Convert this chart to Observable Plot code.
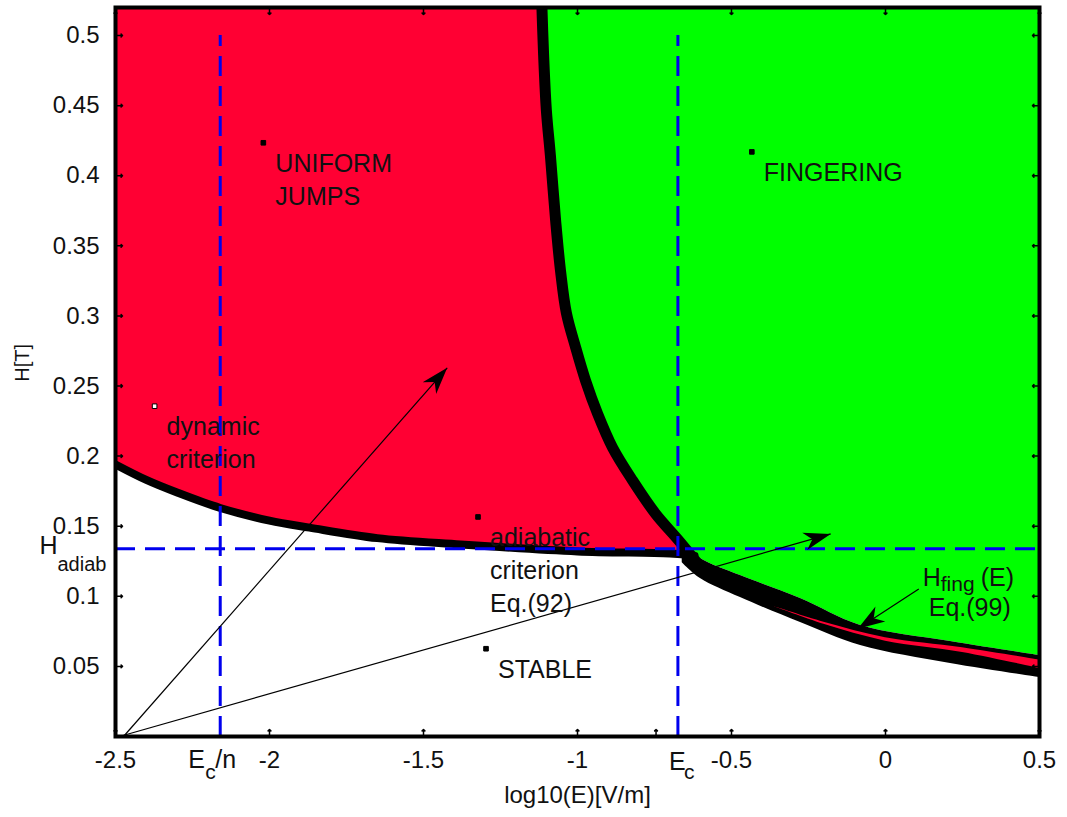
<!DOCTYPE html>
<html>
<head>
<meta charset="utf-8">
<script src="https://cdn.jsdelivr.net/npm/d3@7"></script>
<script src="https://cdn.jsdelivr.net/npm/@observablehq/plot@0.6"></script>
<style>
  body { margin: 0; background: #fff; }
  #chart svg { display: block; }
</style>
</head>
<body>
<div id="chart"></div>
<script>
// Axis ranges and ticks
const xDomain = [-2.5, 0.5];
const yDomain = [0, 0.52];
const xTicks = [-2.5, -2, -1.5, -1, -0.5, 0, 0.5];
const yTicks = [0.05, 0.1, 0.15, 0.2, 0.25, 0.3, 0.35, 0.4, 0.45, 0.5];
const xExtraTicks = [-0.745];

// Characteristic levels: log10 of critical field, and adiabatic field
const Ec = -0.674;
const EcOverN = -2.16;
const Hadiab = 0.134;
const dashTop = 0.5;

// Dynamic / adiabatic stability criterion (lower edge of the jump region)
const dynE = [-2.5, -2.4, -2.3, -2.16, -2.0, -1.87, -1.65, -1.38, -1.0, -0.7, -0.62];
const dynH = [0.194, 0.183, 0.174, 0.163, 0.154, 0.149, 0.1415, 0.137, 0.132, 0.1305, 0.129];

// Fingering threshold, steep part (centre of the boundary)
const fingE = [-1.117, -1.110, -1.101, -1.088, -1.071, -1.055, -1.036, -1.006, -0.974, -0.935, -0.886, -0.821, -0.747, -0.672, -0.610];
const fingH = [0.53, 0.486, 0.4465, 0.4144, 0.368, 0.332, 0.302, 0.2775, 0.254, 0.2304, 0.206, 0.1826, 0.159, 0.140, 0.1234];

// H_fing(E), Eq.(99): shallow part drawn as a band (upper / lower edge)
const bandE  = [-0.66, -0.601, -0.471, -0.276, -0.081, 0.211, 0.5];
const bandHi = [0.138, 0.127, 0.1148, 0.0984, 0.0792, 0.0678, 0.0578];
const bandLo = [0.124, 0.1127, 0.0991, 0.0813, 0.0649, 0.0521, 0.0421];

// Thin red trace inside the H_fing band
const stripE  = [-0.36, -0.2, 0, 0.25, 0.5];
const stripHi = [0.0925, 0.0815, 0.0705, 0.0633, 0.0545];
const stripLo = [0.0925, 0.0800, 0.0680, 0.0600, 0.0485];

// Arrows: tail (E, H) -> head (E, H)
const arrowE1 = [-2.474, -2.487, 0.108];
const arrowH1 = [0, 0, 0.1053];
const arrowE2 = [-1.423, -0.178, -0.090];
const arrowH2 = [0.263, 0.1445, 0.0769];

// Region labels with their anchor points
const labelText = ["UNIFORM\nJUMPS", "FINGERING", "dynamic\ncriterion", "adiabatic\ncriterion\nEq.(92)", "STABLE"];
const labelE = [-2.020, -0.434, -2.373, -1.323, -1.297];
const labelH = [0.4235, 0.417, 0.2356, 0.1566, 0.0626];

// H_fing(E) label anchor
const fingLabelE = 0.121;
const fingLabelH = 0.1075;

// Vertical position of the y-axis title
const yTitleH = 0.253;

const RED = "#ff0033";
const GREEN = "#00ff00";
const BLUE = "#0000ee";
const INK = "#111";
const FONT = "'Liberation Sans', Arial, Helvetica, sans-serif";

const zip = (xs, ...cols) => xs.map((x, i) => [x, ...cols.map(c => c[i])]);
const dyn = zip(dynE, dynH);
const fing = zip(fingE, fingH);
const band = zip(bandE, bandHi, bandLo);
const strip = zip(stripE, stripHi, stripLo);
const greenEdge = fing.filter(d => d[0] < bandE[0]).concat(band.map(([e, hi]) => [e, hi]));
const arrows = zip(arrowE1, arrowH1, arrowE2, arrowH2);
const labels = zip(labelE, labelH, labelText);
const yMax = yDomain[1];

// Filled arrowhead marker
function headMarker(color, context) {
  const doc = (context && context.document) || document;
  const ns = "http://www.w3.org/2000/svg";
  const m = doc.createElementNS(ns, "marker");
  m.setAttribute("viewBox", "-30 -12 32 24");
  m.setAttribute("markerWidth", 32);
  m.setAttribute("markerHeight", 24);
  m.setAttribute("markerUnits", "userSpaceOnUse");
  m.setAttribute("orient", "auto");
  m.setAttribute("refX", 0);
  m.setAttribute("refY", 0);
  const p = doc.createElementNS(ns, "path");
  p.setAttribute("d", "M0,0L-27,-9L-19,0L-27,9Z");
  p.setAttribute("fill", color);
  p.setAttribute("stroke", "none");
  m.appendChild(p);
  return m;
}

function arrowMark(marker) {
  return Plot.link(arrows, {
    x1: d => d[0], y1: d => d[1], x2: d => d[2], y2: d => d[3],
    stroke: "black", strokeWidth: 1.2, markerEnd: marker
  });
}

function build(marker) {
  return Plot.plot({
    width: 1067,
    height: 817,
    marginLeft: 115,
    marginRight: 28,
    marginTop: 7,
    marginBottom: 81,
    style: { fontFamily: FONT, background: "#fff", color: INK },
    x: { domain: xDomain },
    y: { domain: yDomain },
    marks: [
      // regions
      Plot.areaY(dyn, { x: d => d[0], y1: d => d[1], y2: yMax, fill: RED, curve: "catmull-rom", clip: true }),
      Plot.areaY(greenEdge, { x: d => d[0], y1: d => d[1], y2: yMax, fill: GREEN, curve: "catmull-rom", clip: true }),
      // boundaries
      Plot.line(fing, { x: d => d[0], y: d => d[1], stroke: "black", strokeWidth: 11, curve: "catmull-rom", clip: true }),
      Plot.areaY(band, { x: d => d[0], y1: d => d[2], y2: d => d[1], fill: "black", curve: "catmull-rom", clip: true }),
      Plot.areaY(strip, { x: d => d[0], y1: d => d[2], y2: d => d[1], fill: RED, curve: "catmull-rom", clip: true }),
      Plot.line(dyn, { x: d => d[0], y: d => d[1], stroke: "black", strokeWidth: 8, curve: "catmull-rom", clip: true }),
      // reference lines
      Plot.ruleY([Hadiab], { stroke: BLUE, strokeWidth: 3, strokeDasharray: "20,10" }),
      Plot.ruleX([EcOverN, Ec], { y1: 0, y2: dashTop, stroke: BLUE, strokeWidth: 3, strokeDasharray: "20,10" }),
      // arrows
      arrowMark(marker),
      // labels
      Plot.dot(labels, { x: d => d[0], y: d => d[1], symbol: "square", r: 2.6,
        fill: (d, i) => i === 2 ? "white" : "black", stroke: "black", strokeWidth: 1 }),
      Plot.text(labels, { x: d => d[0], y: d => d[1], text: d => d[2], dx: 12, dy: 6,
        textAnchor: "start", lineAnchor: "top", lineHeight: 1.31, fontSize: 25, fill: INK }),
      Plot.text(["H"], { x: fingLabelE, y: fingLabelH, textAnchor: "start", lineAnchor: "bottom", fontSize: 25, fill: INK }),
      Plot.text(["fing"], { x: fingLabelE, y: fingLabelH, dx: 18, dy: 5, textAnchor: "start", lineAnchor: "bottom", fontSize: 21, fill: INK }),
      Plot.text(["(E)"], { x: fingLabelE, y: fingLabelH, dx: 58, textAnchor: "start", lineAnchor: "bottom", fontSize: 25, fill: INK }),
      Plot.text(["Eq.(99)"], { x: fingLabelE, y: fingLabelH, dx: 6, dy: 30, textAnchor: "start", lineAnchor: "bottom", fontSize: 25, fill: INK }),
      // H_adiab label at the left of the axis
      Plot.text(["H"], { frameAnchor: "left", y: Hadiab, dx: -76, dy: 5, textAnchor: "start", lineAnchor: "bottom", fontSize: 25, fill: INK }),
      Plot.text(["adiab"], { frameAnchor: "left", y: Hadiab, dx: -58, dy: 22, textAnchor: "start", lineAnchor: "bottom", fontSize: 20, fill: INK }),
      // E_c/n and E_c labels under the axis
      Plot.text(["E"], { x: EcOverN, frameAnchor: "bottom", dx: -32, dy: 31, textAnchor: "start", lineAnchor: "bottom", fontSize: 25, fill: INK }),
      Plot.text(["c"], { x: EcOverN, frameAnchor: "bottom", dx: -15, dy: 42, textAnchor: "start", lineAnchor: "bottom", fontSize: 21, fill: INK }),
      Plot.text(["/n"], { x: EcOverN, frameAnchor: "bottom", dx: -5, dy: 31, textAnchor: "start", lineAnchor: "bottom", fontSize: 25, fill: INK }),
      Plot.text(["E"], { x: Ec, frameAnchor: "bottom", dx: -9, dy: 33, textAnchor: "start", lineAnchor: "bottom", fontSize: 25, fill: INK }),
      Plot.text(["c"], { x: Ec, frameAnchor: "bottom", dx: 6, dy: 42, textAnchor: "start", lineAnchor: "bottom", fontSize: 21, fill: INK }),
      // axes: labels only, inward ticks drawn below
      Plot.axisX(xTicks, { anchor: "bottom", tickSize: 0, tickPadding: 14, tickFormat: d => String(d), fontSize: 24, label: null }),
      Plot.axisY(yTicks, { anchor: "left", tickSize: 0, tickPadding: 16, tickFormat: d => String(d), fontSize: 24, label: null }),
      Plot.vector(xTicks.concat(xExtraTicks), { x: d => d, y: yDomain[0], length: 7, rotate: 0, anchor: "start", stroke: "black", strokeWidth: 1.5 }),
      Plot.vector(xTicks, { x: d => d, y: yDomain[1], length: 7, rotate: 180, anchor: "start", stroke: "black", strokeWidth: 1.5 }),
      Plot.vector(yTicks, { y: d => d, x: xDomain[0], length: 7, rotate: 90, anchor: "start", stroke: "black", strokeWidth: 1.5 }),
      Plot.vector(yTicks, { y: d => d, x: xDomain[1], length: 7, rotate: -90, anchor: "start", stroke: "black", strokeWidth: 1.5 }),
      Plot.frame({ stroke: "black", strokeWidth: 4 }),
      // axis titles
      Plot.text(["log10(E)[V/m]"], { frameAnchor: "bottom", dy: 66, lineAnchor: "bottom", fontSize: 24, fill: INK }),
      Plot.text(["H[T]"], { frameAnchor: "left", y: yTitleH, dx: -93, rotate: -90, fontSize: 20, fill: INK })
    ]
  });
}

let chart;
try {
  chart = build(headMarker);
} catch (e) {
  chart = build("arrow");
}
document.getElementById("chart").appendChild(chart);
</script>
</body>
</html>
